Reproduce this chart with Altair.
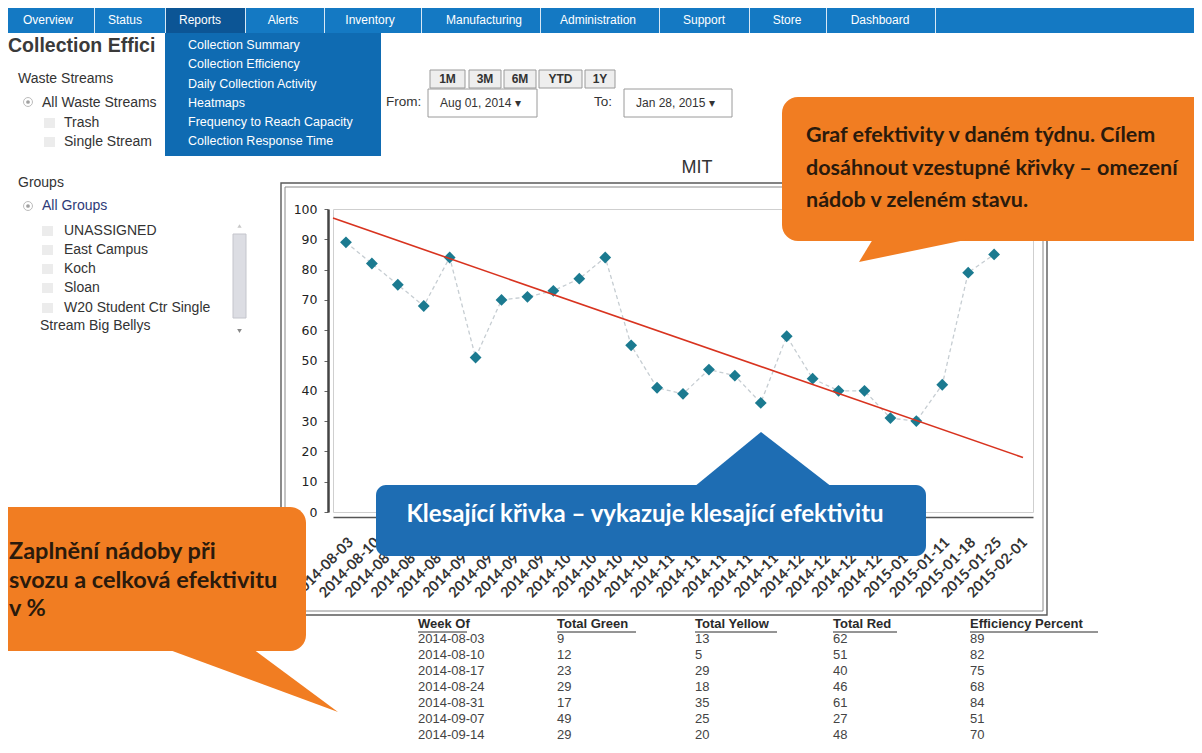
import altair as alt
import pandas as pd

# ---------------- chart data ----------------
weeks = ["2014-08-03", "2014-08-10", "2014-08-17", "2014-08-24", "2014-08-31",
         "2014-09-07", "2014-09-14", "2014-09-21", "2014-09-28",
         "2014-10-05", "2014-10-12", "2014-10-19", "2014-10-26",
         "2014-11-02", "2014-11-09", "2014-11-16", "2014-11-23", "2014-11-30",
         "2014-12-07", "2014-12-14", "2014-12-21", "2014-12-28",
         "2015-01-04", "2015-01-11", "2015-01-18", "2015-01-25", "2015-02-01"]
efficiency = [89, 82, 75, 68, 84, 51, 70, 71, 73, 77, 84, 55, 41, 39, 47, 45,
              36, 58, 44, 40, 40, 31, 30, 42, 79, 85, None]
trend_from = [97]
trend_to = [18]

table_headers = ["Week Of", "Total Green", "Total Yellow", "Total Red", "Efficiency Percent"]
table_weeks = ["2014-08-03", "2014-08-10", "2014-08-17", "2014-08-24", "2014-08-31", "2014-09-07", "2014-09-14"]
table_green = [9, 12, 23, 29, 17, 49, 29]
table_yellow = [13, 5, 29, 18, 35, 25, 20]
table_red = [62, 51, 40, 46, 61, 27, 48]
table_eff = [89, 82, 75, 68, 84, 51, 70]

nav_items = ["Overview", "Status", "Reports", "Alerts", "Inventory", "Manufacturing",
             "Administration", "Support", "Store", "Dashboard"]
menu_items = ["Collection Summary", "Collection Efficiency", "Daily Collection Activity",
              "Heatmaps", "Frequency to Reach Capacity", "Collection Response Time"]
range_buttons = ["1M", "3M", "6M", "YTD", "1Y"]
stream_items = ["Trash", "Single Stream"]
group_items = ["UNASSIGNED", "East Campus", "Koch", "Sloan", "W20 Student Ctr Single"]
page_title = "Collection Effici"
callout_top = ["Graf efektivity v daném týdnu. Cílem",
               "dosáhnout vzestupné křivky – omezení",
               "nádob v zeleném stavu."]
callout_mid = "Klesající křivka – vykazuje klesající efektivitu"
callout_left = ["Zaplnění nádoby při", "svozu a celková efektivitu", "v %"]

# ---------------- layout ----------------
W, H = 700, 303
PAD = {"left": 325, "top": 201, "right": 161, "bottom": 232}
OX, OY = PAD["left"] + 8, PAD["top"] + 8   # page position of the plot origin

UI = "Liberation Sans"
CALLOUT = "Lato"
ORANGE = "#f17d22"
BLUE = "#1e6db3"
INK = "#2a1a0c"


def px(x):
    return x - OX


def py(y):
    return y - OY


def XP(f="x"):
    return alt.X(f"{f}:Q", scale=None, axis=None)


def YP(f="y"):
    return alt.Y(f"{f}:Q", scale=None, axis=None)


def texts(rows, **mark):
    df = pd.DataFrame({"x": [px(r[0]) for r in rows],
                       "y": [py(r[1]) for r in rows],
                       "t": [r[2] for r in rows]})
    props = dict(align="left", baseline="middle")
    props.update(mark)
    return alt.Chart(df).mark_text(**props).encode(x=XP(), y=YP(), text="t:N")


def rects(rows, **mark):
    df = pd.DataFrame({"x": [px(r[0]) for r in rows], "y": [py(r[1]) for r in rows],
                       "x2": [px(r[2]) for r in rows], "y2": [py(r[3]) for r in rows]})
    return alt.Chart(df).mark_rect(**mark).encode(x=XP(), x2="x2:Q", y=YP(), y2="y2:Q")


def hlines(rows, **mark):
    df = pd.DataFrame({"x": [px(r[0]) for r in rows], "x2": [px(r[1]) for r in rows],
                       "y": [py(r[2]) for r in rows]})
    return alt.Chart(df).mark_rule(**mark).encode(x=XP(), x2="x2:Q", y=YP())


def tail(base_y, bx1, bx2, tip_x, tip_y, color):
    df = pd.DataFrame({"y": [py(base_y), py(tip_y)],
                       "x": [px(bx1), px(tip_x)],
                       "x2": [px(bx2), px(tip_x)]})
    return alt.Chart(df).mark_area(orient="horizontal", color=color, opacity=1).encode(
        y=YP(), x=alt.X("x:Q", scale=None, axis=None, stack=None), x2="x2:Q")


def points(rows, **mark):
    df = pd.DataFrame({"x": [px(r[0]) for r in rows], "y": [py(r[1]) for r in rows]})
    return alt.Chart(df).mark_point(**mark).encode(x=XP(), y=YP())


layers = []

# chart frame (double border)
layers.append(rects([(281, 183, 1047, 615)], fillOpacity=0, stroke="#5a5a5a", strokeWidth=1.4))
layers.append(rects([(285, 187, 1043, 611)], fillOpacity=0, stroke="#8a8a8a", strokeWidth=1))

# navigation bar
nav_x = [48, 125, 200, 283, 370, 484, 598, 704, 787, 880]
nav_sep = [94, 165, 245, 324, 421, 540, 659, 749, 826, 935]
layers.append(rects([(8, 8, 1194, 33)], color="#1479c3"))
layers.append(rects([(165, 8, 245, 33)], color="#0c5595"))
layers.append(rects([(s, 8, s + 1, 33) for s in nav_sep], color="#d8e8f5"))
layers.append(texts([(x, 20, t) for x, t in zip(nav_x, nav_items)],
                    align="center", font=UI, fontSize=12, color="white"))

# page title (its end is hidden by the open menu)
layers.append(texts([(8, 46, page_title)], font=UI, fontSize=19.5,
                    fontWeight="bold", color="#3a3a3a"))

# sidebar
side_rows = [(18, 79, "Waste Streams"), (42, 103, "All Waste Streams")]
side_rows += [(64, y, t) for y, t in zip([123, 142], stream_items)]
side_rows += [(18, 183, "Groups")]
side_rows += [(64, y, t) for y, t in zip([231, 250, 269, 288, 308], group_items)]
side_rows += [(40, 326, "Stream Big Bellys")]
layers.append(rects([(44, y - 5, 55, y + 5) for y in [123, 142]] +
                    [(42, y - 5, 53, y + 5) for y in [231, 250, 269, 288, 308]], color="#ececec"))
layers.append(texts(side_rows, font=UI, fontSize=14, color="#333333"))
layers.append(texts([(42, 206, "All Groups")], font=UI, fontSize=14, color="#2e3a78"))
layers.append(points([(28, 102), (28, 206)], shape="circle", size=80, filled=False,
                     stroke="#a0a0a0", strokeWidth=1))
layers.append(points([(28, 102), (28, 206)], shape="circle", size=14, filled=True, color="#777777"))
layers.append(rects([(233, 234, 246, 318)], color="#dcdde3", stroke="#c4c5cc", strokeWidth=1))
layers.append(points([(239.5, 226)], shape="triangle-up", size=18, filled=True, color="#b0b0b0"))
layers.append(points([(239.5, 331)], shape="triangle-down", size=22, filled=True, color="#555555"))

# date range controls
btn_boxes = [(430, 465), (469, 501), (504, 536), (539, 582), (585, 615)]
layers.append(rects([(a, 70, b, 88) for a, b in btn_boxes], color="#eeeeee",
                    stroke="#9a9a9a", strokeWidth=1))
layers.append(texts([((a + b) / 2, 79, t) for (a, b), t in zip(btn_boxes, range_buttons)],
                    align="center", font=UI, fontSize=12, fontWeight="bold", color="#333333"))
layers.append(rects([(428, 89, 537, 117), (624, 89, 732, 117)], color="white",
                    stroke="#9a9a9a", strokeWidth=1))
layers.append(texts([(386, 102, "From:"), (594, 102, "To:")], font=UI, fontSize=13.5, color="#333333"))
layers.append(texts([(440, 103, "Aug 01, 2014 ▾"), (636, 103, "Jan 28, 2015 ▾")],
                    font=UI, fontSize=12, color="#333333"))

# chart title
layers.append(texts([(697, 168, "MIT")], align="center", font=UI, fontSize=18, color="#333333"))

# ---------------- main chart ----------------
df = pd.DataFrame({"week": weeks, "eff": efficiency})
x_enc = alt.X("week:O", scale=alt.Scale(domain=weeks, padding=0.5),
              axis=alt.Axis(title=None, labelAngle=315, labelFont=CALLOUT, labelFontWeight="bold",
                            labelFontSize=14.5, labelColor="#333333", labelPadding=18, offset=5,
                            domainColor="#555555", domainWidth=1.5, ticks=False, tickSize=0,
                            labelOverlap=False))
y_axis = alt.Axis(title=None, values=list(range(0, 101, 10)), grid=False, labelFont="DejaVu Sans",
                  labelFontSize=12.5, labelColor="#222222", offset=5, domainColor="#444444",
                  domainWidth=2.5, tickSize=4, tickColor="#666666", labelPadding=7)
y_scale = alt.Scale(domain=[0, 100], nice=False)

line = alt.Chart(df).mark_line(color="#c6cdd2", strokeWidth=1.3, strokeDash=[4, 3]).encode(
    x=x_enc, y=alt.Y("eff:Q", scale=y_scale, axis=y_axis))
dots = alt.Chart(df).mark_point(shape="diamond", filled=True, size=140, color="#1b7a90", opacity=1).encode(
    x=x_enc, y=alt.Y("eff:Q", scale=y_scale, axis=y_axis))
trend = alt.Chart(pd.DataFrame({"a": trend_from, "b": trend_to})).mark_rule(
    color="#d8331f", strokeWidth=1.6).encode(
    x=alt.value(0), x2=alt.value(690),
    y=alt.Y("a:Q", scale=y_scale, axis=y_axis), y2="b:Q")
layers += [line, dots, trend]

# dropdown menu
layers.append(rects([(165, 33, 381, 156)], color="#0f6bb2"))
layers.append(texts([(188, y, t) for y, t in zip([45, 64, 84, 103, 122, 141], menu_items)],
                    font=UI, fontSize=12.5, color="white"))

# orange callout (top right)
layers.append(rects([(782, 97, 1194, 241)], color=ORANGE, cornerRadiusTopLeft=16,
                    cornerRadiusBottomLeft=16))
layers.append(tail(239, 873, 970, 859, 262, ORANGE))
layers.append(texts([(806, y, t) for y, t in zip([142, 174.5, 207], callout_top)],
                    baseline="alphabetic", font=CALLOUT, fontSize=21.5, fontWeight="bold", color=INK))

# blue callout
layers.append(rects([(376, 485, 926, 556)], color=BLUE, cornerRadius=10))
layers.append(tail(487, 694, 832, 761, 432, BLUE))
layers.append(texts([(645, 522, callout_mid)], align="center", baseline="alphabetic",
                    font=CALLOUT, fontSize=24, fontWeight="bold", color="white"))

# orange callout (bottom left)
layers.append(rects([(8, 507, 306, 651)], color=ORANGE, cornerRadiusTopRight=16,
                    cornerRadiusBottomRight=16))
layers.append(tail(649, 167, 253, 338, 712, ORANGE))
layers.append(texts([(9, y, t) for y, t in zip([559, 588, 616], callout_left)],
                    baseline="alphabetic", font=CALLOUT, fontSize=23.5, fontWeight="bold", color=INK))

# data table
col_x = [418, 557, 695, 833, 970]
under_w = [49, 79, 82, 64, 128]
layers.append(texts([(x, 624, t) for x, t in zip(col_x, table_headers)],
                    font=UI, fontSize=13, fontWeight="bold", color="#2a2a2a"))
layers.append(hlines([(x, x + w, 632) for x, w in zip(col_x, under_w)], color="#2a2a2a", strokeWidth=1))
row_y = [639 + 16 * i for i in range(len(table_weeks))]
cells = []
for i, y in enumerate(row_y):
    vals = [table_weeks[i], table_green[i], table_yellow[i], table_red[i], table_eff[i]]
    cells += [(x, y, str(v)) for x, v in zip(col_x, vals)]
layers.append(texts(cells, font=UI, fontSize=13, color="#444444"))

chart = alt.layer(*layers).properties(
    width=W, height=H, padding=PAD,
    autosize=alt.AutoSizeParams(type="none"),
    background="white",
).configure_view(stroke="#cfcfcf", strokeWidth=1)

chart.save("out.html", embed_options={"renderer": "svg", "actions": False})
